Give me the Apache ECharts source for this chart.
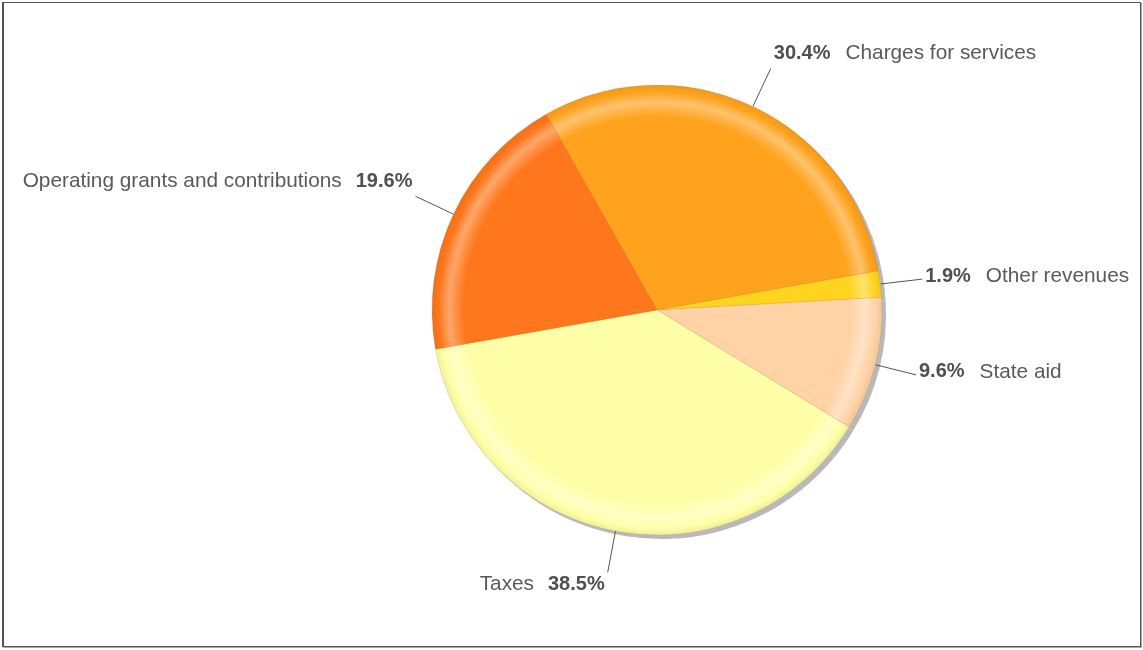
<!DOCTYPE html>
<html><head><meta charset="utf-8">
<script src="https://cdn.jsdelivr.net/npm/echarts@6/dist/echarts.min.js"></script>
<style>
html,body{margin:0;padding:0;background:#fff;}
#frame{position:absolute;left:2px;top:2px;width:1139px;height:645px;box-sizing:border-box;border:1px solid #555;border-left-width:2px;box-shadow:1px 1px 0 #aaa;}
#chart{position:absolute;left:0;top:0;width:1143px;height:650px;}
</style></head>
<body>
<div id="frame"></div>
<div id="chart"></div>
<script>
const categories = ['Charges for services', 'Other revenues', 'State aid', 'Taxes', 'Operating grants and contributions'];
const values = [30.4, 1.9, 9.6, 38.5, 19.6];
const sliceColors = ['#FFA31F', '#FFD41F', '#FFD3A6', '#FFFFA8', '#FF771C'];

const CX = 657, CY = 310, R = 225, START = 119.5;
const FONT = 'Liberation Sans, Arial, sans-serif';

function mix(hex, target, t) {
  const a = parseInt(hex.slice(1), 16);
  const r = (a >> 16) & 255, g = (a >> 8) & 255, b = a & 255;
  const tr = (target >> 16) & 255, tg = (target >> 8) & 255, tb = target & 255;
  const f = (x, y) => Math.round(x + (y - x) * t);
  return 'rgb(' + f(r, tr) + ',' + f(g, tg) + ',' + f(b, tb) + ')';
}
function grad(c) {
  return {
    type: 'radial', x: CX, y: CY, r: R, global: true,
    colorStops: [
      { offset: 0, color: c },
      { offset: 0.86, color: c },
      { offset: 0.925, color: mix(c, 0xffffff, 0.35) },
      { offset: 0.97, color: c },
      { offset: 1, color: mix(c, 0x000000, 0.06) }
    ]
  };
}

const total = values.reduce((a, b) => a + b, 0);
let acc = 0;
const pieData = categories.map((name, i) => {
  const mid = START - (acc + values[i] / 2) / total * 360;
  acc += values[i];
  const rad = mid * Math.PI / 180;
  const left = Math.cos(rad) < 0;
  const s = Math.sin(rad);
  // vertical offset of the text relative to the end of its leader line
  const shift = s > 0.35 ? -15 : (s < -0.35 ? 12 : -3);
  const pad = shift < 0 ? [0, 0, -2 * shift, 0] : [2 * shift, 0, 0, 0];
  const pct = values[i].toFixed(1) + '%';
  return {
    name: name,
    value: values[i],
    itemStyle: { color: grad(sliceColors[i]) },
    label: {
      padding: pad,
      formatter: left ? '{nl|' + name + '}{p|' + pct + '}' : '{p|' + pct + '}{nr|' + name + '}'
    }
  };
});

const chart = echarts.init(document.getElementById('chart'), null, { renderer: 'canvas' });
chart.setOption({
  animation: false,
  backgroundColor: 'transparent',
  series: [
    {
      type: 'pie', silent: true, z: 1,
      center: [CX + 4, CY + 4], radius: R,
      startAngle: START, clockwise: true,
      label: { show: false }, labelLine: { show: false },
      itemStyle: { color: '#b9b9b9' },
      data: categories.map((n, i) => ({ name: n, value: values[i] }))
    },
    {
      type: 'pie', z: 2,
      center: [CX, CY], radius: R,
      startAngle: START, clockwise: true,
      avoidLabelOverlap: false,
      itemStyle: { borderColor: 'rgba(190,90,0,0.25)', borderWidth: 0.6 },
      label: {
        show: true, position: 'outside', distanceToLabelLine: 3,
        fontFamily: FONT, fontSize: 20, color: '#555',
        rich: {
          p: { fontFamily: FONT, fontSize: 20, fontWeight: 'bold', color: '#4f4f4f' },
          nl: { fontFamily: FONT, fontSize: 20.8, color: '#5a5a5a', padding: [0, 14, 0, 0] },
          nr: { fontFamily: FONT, fontSize: 20.8, color: '#5a5a5a', padding: [0, 0, 0, 15] }
        }
      },
      labelLine: { show: true, length: 42, length2: 0, smooth: false, lineStyle: { color: '#555', width: 1 } },
      emphasis: { scale: false },
      data: pieData
    }
  ]
});
</script>
</body></html>
